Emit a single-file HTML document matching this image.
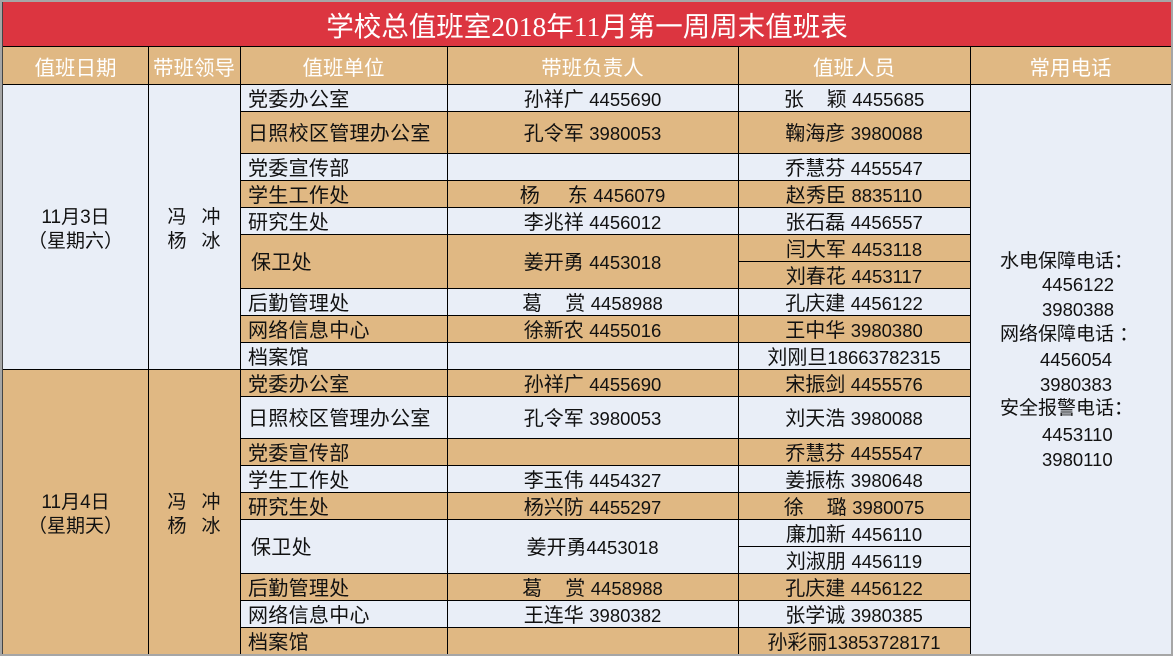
<!DOCTYPE html>
<html><head><meta charset="utf-8">
<style>
html,body{margin:0;padding:0;}
body{width:1173px;height:656px;position:relative;overflow:hidden;background:#a6a6a6;font-family:"Liberation Sans","Noto Sans CJK SC",sans-serif;}
.bg{position:absolute;}
.L{background:#e9eef7;}
.T{background:#e0b883;}
.h{position:absolute;background:#000;height:1px;}
.v{position:absolute;background:#000;width:1px;}
.c{position:absolute;display:flex;align-items:center;white-space:nowrap;font-size:20px;line-height:22px;color:#111;box-sizing:border-box;padding-top:4px;font-family:"Liberation Sans","Noto Sans CJK SC",sans-serif;}
.c > span.w{white-space:pre;}
.n{font-size:18.5px;}
.u{left:240px;width:207px;padding-left:8px;justify-content:flex-start;letter-spacing:0.3px;}
.p{left:447px;width:291px;justify-content:center;}
.s{left:738px;width:232px;justify-content:center;}
.hd{position:absolute;top:47px;height:37px;display:flex;align-items:center;justify-content:center;color:#fff;font-size:20.5px;font-family:"Liberation Sans","Noto Sans CJK SC",sans-serif;}
.g{display:inline-block;width:23px;}
.blk{position:absolute;display:flex;flex-direction:column;align-items:center;justify-content:center;font-size:19px;line-height:24px;color:#111;padding-top:6px;box-sizing:border-box;}
.r{position:absolute;font-size:19px;line-height:24px;color:#111;white-space:nowrap;}
</style></head><body>
<!-- title -->
<div class="bg" style="left:3px;top:2px;width:1168px;height:44px;background:#dc3540;"></div>
<div style="position:absolute;left:3px;top:2px;width:1168px;height:44px;display:flex;align-items:center;justify-content:center;color:#fff;font-size:27.5px;font-family:'Liberation Serif','Noto Sans CJK SC',serif;">学校总值班室2018年11月第一周周末值班表</div>
<!-- header -->
<div class="bg T" style="left:3px;top:47px;width:1168px;height:37px;"></div>
<div class="hd" style="left:3px;width:145px;">值班日期</div>
<div class="hd" style="left:148px;width:92px;">带班领导</div>
<div class="hd" style="left:240px;width:207px;">值班单位</div>
<div class="hd" style="left:447px;width:291px;">带班负责人</div>
<div class="hd" style="left:738px;width:232px;">值班人员</div>
<div class="hd" style="left:970px;width:201px;">常用电话</div>

<!-- left blocks -->
<div class="bg L" style="left:3px;top:85px;width:237px;height:284px;"></div>
<div class="bg T" style="left:3px;top:370px;width:237px;height:284px;"></div>
<div class="bg L" style="left:970px;top:85px;width:201px;height:569px;"></div>

<!-- row backgrounds block 1 -->
<div class="bg L" style="left:240px;top:84px;width:730px;height:27px;"></div>
<div class="bg T" style="left:240px;top:111px;width:730px;height:42px;"></div>
<div class="bg L" style="left:240px;top:153px;width:730px;height:27px;"></div>
<div class="bg T" style="left:240px;top:180px;width:730px;height:27px;"></div>
<div class="bg L" style="left:240px;top:207px;width:730px;height:27px;"></div>
<div class="bg T" style="left:240px;top:234px;width:730px;height:54px;"></div>
<div class="bg L" style="left:240px;top:288px;width:730px;height:27px;"></div>
<div class="bg T" style="left:240px;top:315px;width:730px;height:27px;"></div>
<div class="bg L" style="left:240px;top:342px;width:730px;height:27px;"></div>
<!-- block 2 -->
<div class="bg T" style="left:240px;top:369px;width:730px;height:27px;"></div>
<div class="bg L" style="left:240px;top:396px;width:730px;height:42px;"></div>
<div class="bg T" style="left:240px;top:438px;width:730px;height:27px;"></div>
<div class="bg L" style="left:240px;top:465px;width:730px;height:27px;"></div>
<div class="bg T" style="left:240px;top:492px;width:730px;height:27px;"></div>
<div class="bg L" style="left:240px;top:519px;width:730px;height:54px;"></div>
<div class="bg T" style="left:240px;top:573px;width:730px;height:27px;"></div>
<div class="bg L" style="left:240px;top:600px;width:730px;height:27px;"></div>
<div class="bg T" style="left:240px;top:627px;width:730px;height:27px;"></div>

<!-- lines -->
<div class="v" style="left:2px;top:2px;height:652px;background:#444;"></div>
<div class="h" style="left:3px;top:46px;width:1168px;"></div>
<div class="h" style="left:3px;top:84px;width:1168px;"></div>
<div class="h" style="left:3px;top:369px;width:967px;"></div>
<div class="h" style="left:240px;top:111px;width:730px;"></div>
<div class="h" style="left:240px;top:153px;width:730px;"></div>
<div class="h" style="left:240px;top:180px;width:730px;"></div>
<div class="h" style="left:240px;top:207px;width:730px;"></div>
<div class="h" style="left:240px;top:234px;width:730px;"></div>
<div class="h" style="left:738px;top:261px;width:232px;"></div>
<div class="h" style="left:240px;top:288px;width:730px;"></div>
<div class="h" style="left:240px;top:315px;width:730px;"></div>
<div class="h" style="left:240px;top:342px;width:730px;"></div>
<div class="h" style="left:240px;top:396px;width:730px;"></div>
<div class="h" style="left:240px;top:438px;width:730px;"></div>
<div class="h" style="left:240px;top:465px;width:730px;"></div>
<div class="h" style="left:240px;top:492px;width:730px;"></div>
<div class="h" style="left:240px;top:519px;width:730px;"></div>
<div class="h" style="left:738px;top:546px;width:232px;"></div>
<div class="h" style="left:240px;top:573px;width:730px;"></div>
<div class="h" style="left:240px;top:600px;width:730px;"></div>
<div class="h" style="left:240px;top:627px;width:730px;"></div>
<div class="v" style="left:148px;top:46px;height:608px;"></div>
<div class="v" style="left:240px;top:46px;height:608px;"></div>
<div class="v" style="left:447px;top:46px;height:608px;"></div>
<div class="v" style="left:738px;top:46px;height:608px;"></div>
<div class="v" style="left:970px;top:46px;height:608px;"></div>

<!-- date / leader -->
<div class="blk" style="left:3px;top:84px;width:145px;height:285px;"><div>11月3日</div><div>（星期六）</div></div>
<div class="blk" style="left:148px;top:84px;width:92px;height:285px;"><div>冯<span style="display:inline-block;width:15px"></span>冲</div><div>杨<span style="display:inline-block;width:15px"></span>冰</div></div>
<div class="blk" style="left:3px;top:369px;width:145px;height:285px;"><div>11月4日</div><div>（星期天）</div></div>
<div class="blk" style="left:148px;top:369px;width:92px;height:285px;"><div>冯<span style="display:inline-block;width:15px"></span>冲</div><div>杨<span style="display:inline-block;width:15px"></span>冰</div></div>

<!-- block 1 text -->
<div class="c u" style="top:84px;height:27px;">党委办公室</div>
<div class="c p" style="top:84px;height:27px;"><span class="w">孙祥广 <span class="n">4455690</span></span></div>
<div class="c s" style="top:84px;height:27px;"><span class="w">张<span class="g"></span>颖 <span class="n">4455685</span></span></div>

<div class="c u" style="top:111px;height:42px;">日照校区管理办公室</div>
<div class="c p" style="top:111px;height:42px;"><span class="w">孔令军 <span class="n">3980053</span></span></div>
<div class="c s" style="top:111px;height:42px;"><span class="w">鞠海彦 <span class="n">3980088</span></span></div>

<div class="c u" style="top:153px;height:27px;">党委宣传部</div>
<div class="c s" style="top:153px;height:27px;"><span class="w">乔慧芬 <span class="n">4455547</span></span></div>

<div class="c u" style="top:180px;height:27px;">学生工作处</div>
<div class="c p" style="top:180px;height:27px;"><span class="w">杨<span class="g" style="width:28px"></span>东 <span class="n">4456079</span></span></div>
<div class="c s" style="top:180px;height:27px;"><span class="w">赵秀臣 <span class="n">8835110</span></span></div>

<div class="c u" style="top:207px;height:27px;">研究生处</div>
<div class="c p" style="top:207px;height:27px;"><span class="w">李兆祥 <span class="n">4456012</span></span></div>
<div class="c s" style="top:207px;height:27px;"><span class="w">张石磊 <span class="n">4456557</span></span></div>

<div class="c u" style="top:234px;height:54px;padding-left:11px;">保卫处</div>
<div class="c p" style="top:234px;height:54px;"><span class="w">姜开勇 <span class="n">4453018</span></span></div>
<div class="c s" style="top:234px;height:27px;"><span class="w">闫大军 <span class="n">4453118</span></span></div>
<div class="c s" style="top:261px;height:27px;"><span class="w">刘春花 <span class="n">4453117</span></span></div>

<div class="c u" style="top:288px;height:27px;">后勤管理处</div>
<div class="c p" style="top:288px;height:27px;"><span class="w">葛<span class="g"></span>赏 <span class="n">4458988</span></span></div>
<div class="c s" style="top:288px;height:27px;"><span class="w">孔庆建 <span class="n">4456122</span></span></div>

<div class="c u" style="top:315px;height:27px;">网络信息中心</div>
<div class="c p" style="top:315px;height:27px;"><span class="w">徐新农 <span class="n">4455016</span></span></div>
<div class="c s" style="top:315px;height:27px;"><span class="w">王中华 <span class="n">3980380</span></span></div>

<div class="c u" style="top:342px;height:27px;">档案馆</div>
<div class="c s" style="top:342px;height:27px;"><span class="w">刘刚旦<span class="n">18663782315</span></span></div>

<!-- block 2 text -->
<div class="c u" style="top:369px;height:27px;">党委办公室</div>
<div class="c p" style="top:369px;height:27px;"><span class="w">孙祥广 <span class="n">4455690</span></span></div>
<div class="c s" style="top:369px;height:27px;"><span class="w">宋振剑 <span class="n">4455576</span></span></div>

<div class="c u" style="top:396px;height:42px;">日照校区管理办公室</div>
<div class="c p" style="top:396px;height:42px;"><span class="w">孔令军 <span class="n">3980053</span></span></div>
<div class="c s" style="top:396px;height:42px;"><span class="w">刘天浩 <span class="n">3980088</span></span></div>

<div class="c u" style="top:438px;height:27px;">党委宣传部</div>
<div class="c s" style="top:438px;height:27px;"><span class="w">乔慧芬 <span class="n">4455547</span></span></div>

<div class="c u" style="top:465px;height:27px;">学生工作处</div>
<div class="c p" style="top:465px;height:27px;"><span class="w">李玉伟 <span class="n">4454327</span></span></div>
<div class="c s" style="top:465px;height:27px;"><span class="w">姜振栋 <span class="n">3980648</span></span></div>

<div class="c u" style="top:492px;height:27px;">研究生处</div>
<div class="c p" style="top:492px;height:27px;"><span class="w">杨兴防 <span class="n">4455297</span></span></div>
<div class="c s" style="top:492px;height:27px;"><span class="w">徐<span class="g"></span>璐 <span class="n">3980075</span></span></div>

<div class="c u" style="top:519px;height:54px;padding-left:11px;">保卫处</div>
<div class="c p" style="top:519px;height:54px;"><span class="w">姜开勇<span class="n">4453018</span></span></div>
<div class="c s" style="top:519px;height:27px;"><span class="w">廉加新 <span class="n">4456110</span></span></div>
<div class="c s" style="top:546px;height:27px;"><span class="w">刘淑朋 <span class="n">4456119</span></span></div>

<div class="c u" style="top:573px;height:27px;">后勤管理处</div>
<div class="c p" style="top:573px;height:27px;"><span class="w">葛<span class="g"></span>赏 <span class="n">4458988</span></span></div>
<div class="c s" style="top:573px;height:27px;"><span class="w">孔庆建 <span class="n">4456122</span></span></div>

<div class="c u" style="top:600px;height:27px;">网络信息中心</div>
<div class="c p" style="top:600px;height:27px;"><span class="w">王连华 <span class="n">3980382</span></span></div>
<div class="c s" style="top:600px;height:27px;"><span class="w">张学诚 <span class="n">3980385</span></span></div>

<div class="c u" style="top:627px;height:27px;">档案馆</div>
<div class="c s" style="top:627px;height:27px;"><span class="w">孙彩丽<span class="n">13853728171</span></span></div>

<!-- right column -->
<div class="r" style="left:1000px;top:250px;">水电保障电话：</div>
<div class="r" style="left:1042px;top:273px;font-size:18.5px;">4456122</div>
<div class="r" style="left:1042px;top:298px;font-size:18.5px;">3980388</div>
<div class="r" style="left:1000px;top:323px;">网络保障电话 ：</div>
<div class="r" style="left:1040px;top:348px;font-size:18.5px;">4456054</div>
<div class="r" style="left:1040px;top:373px;font-size:18.5px;">3980383</div>
<div class="r" style="left:1000px;top:397px;">安全报警电话：</div>
<div class="r" style="left:1042px;top:423px;font-size:18.5px;">4453110</div>
<div class="r" style="left:1042px;top:448px;font-size:18.5px;">3980110</div>
</body></html>
